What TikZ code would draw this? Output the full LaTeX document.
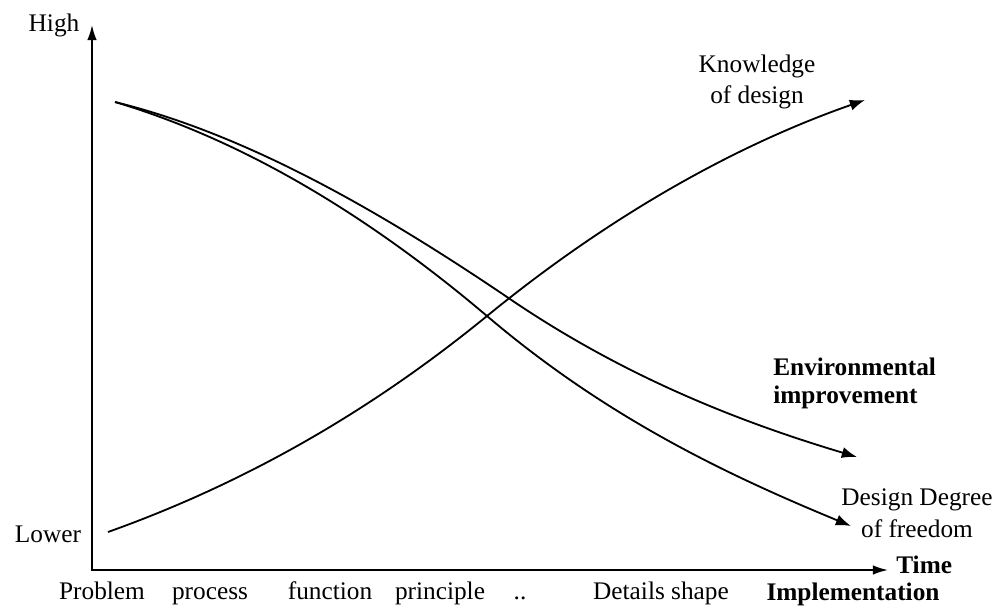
\documentclass[tikz,border=0pt]{standalone}
\usepackage{fontspec}
\setmainfont{Liberation Serif}
\usetikzlibrary{arrows.meta}

\begin{document}
\begin{tikzpicture}[
	x=0.025cm, y=-0.025cm,
	axis/.style={
		line width=1.3pt,
		{Latex[length=3.8mm,width=2.4mm]}-{Latex[length=3.8mm,width=2.4mm]}},
	curve/.style={
		line width=1.3pt,
		-{Latex[length=3.8mm,width=2.8mm]}},
	lbl/.style={
		inner sep=0pt,
		font=\fontsize{18}{22}\selectfont},
	blbl/.style={
		inner sep=0pt,
		font=\fontsize{18}{20}\selectfont\bfseries}
	]
	\useasboundingbox (0,0) rectangle (997,607);
	
	% axes
	\coordinate (yEnd) at (92,25);
	\coordinate (orig) at (92,570);
	\coordinate (xEnd) at (888,570);
	\draw[axis] (yEnd) -- (orig) -- (xEnd);
	
	% curve ends and crossings
	\coordinate (knowS) at (108,532);
	\coordinate (knowM) at (487,316);
	\coordinate (knowE) at (865,100);
	\coordinate (envS) at (115,102);
	\coordinate (envM) at (507,297);
	\coordinate (envE) at (857,457);
	\coordinate (freeS) at (115,102);
	\coordinate (freeM) at (487,316);
	\coordinate (freeE) at (851,526);
	
	\draw[curve] (knowS) .. controls (234,487) and (361,419) .. (knowM)
		.. controls (613,213) and (739,144) .. (knowE);
	\draw[curve] (envS) .. controls (245,134) and (377,209) .. (envM)
		.. controls (624,377) and (740,422) .. (envE);
	\draw[curve] (freeS) .. controls (239,139) and (363,211) .. (freeM)
		.. controls (608,419) and (730,476) .. (freeE);
	
	% labels
	\node[lbl,anchor=base] (high) at (54,31) {High};
	\node[lbl,anchor=base] (lower) at (48,542) {Lower};
	\node[lbl,align=center] (know) at (757,82) {Knowledge\\of design};
	\node[blbl,align=left,anchor=west] (env) at (773,383) {Environmental\\improvement};
	\node[lbl,align=center,font=\fontsize{18}{22.7}\selectfont] (free) at (917,513) {Design Degree\\of freedom};
	\node[blbl,anchor=base west] (time) at (896,573) {Time};
	\node[blbl,anchor=base] (impl) at (853,600) {Implementation};
	
	\foreach \x/\txt/\nm in {% x/text/name
		102/Problem/prob,
		210/process/proc,
		330/function/func,
		440/principle/prin,
		520/{..}/dots,
		661/Details shape/det}
	\node[lbl,anchor=base] (\nm) at (\x,599) {\txt};
	
\end{tikzpicture}
\end{document}
